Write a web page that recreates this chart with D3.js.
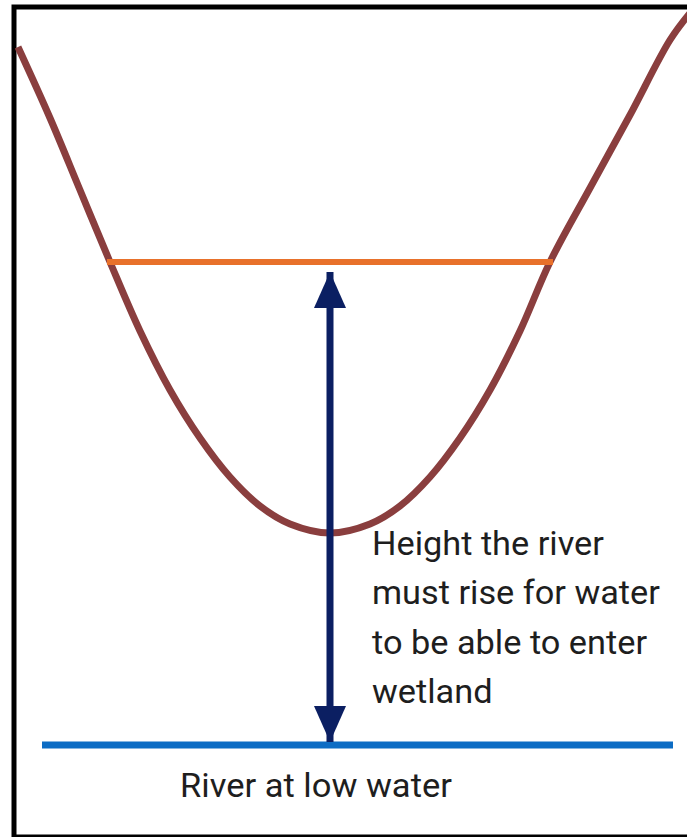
<!DOCTYPE html>
<html>
<head>
<meta charset="utf-8">
<script src="https://cdn.jsdelivr.net/npm/d3@7"></script>
<style>
  html, body { margin: 0; padding: 0; background: #fff; overflow: hidden; }
  svg { display: block; }
</style>
</head>
<body>
<svg id="chart" width="687" height="837"></svg>
<script>
// ---- data (distance along section, elevation above low-water river level) ----
const profileDistance  = [18, 50, 80, 110, 140, 170, 200, 230, 260, 290, 330, 370, 400, 430, 460, 490, 520, 550, 590, 630, 670, 690];
const profileElevation = [698, 627, 555, 483, 414, 355, 307, 268, 239, 221, 212, 221, 239, 268, 307, 355, 414, 483, 557, 630, 705, 732];
const wetlandSill   = { from: 107, to: 553, elevation: 483 };
const riverLow      = { from: 42, to: 673, elevation: 0 };
const arrowDistance = 330;
const noteLines  = ["Height the river", "must rise for water", "to be able to enter", "wetland"];
const riverLabel = "River at low water";

// ---- scales ----
const x = d3.scaleLinear().domain([0, 687]).range([0, 687]);
const y = d3.scaleLinear().domain([0, 745]).range([745, 0]);

const svg = d3.select("#chart");

// frame
svg.append("rect")
  .attr("x", 14).attr("y", 7)
  .attr("width", 690).attr("height", 830)
  .attr("fill", "none").attr("stroke", "#000").attr("stroke-width", 5);

// arrow markers
const defs = svg.append("defs");
function marker(id, orient) {
  defs.append("marker")
    .attr("id", id)
    .attr("viewBox", "0 0 36 32")
    .attr("refX", 36).attr("refY", 16)
    .attr("markerUnits", "userSpaceOnUse")
    .attr("markerWidth", 36).attr("markerHeight", 32)
    .attr("orient", orient)
    .append("path")
    .attr("d", "M0,0 L36,16 L0,32 Z")
    .attr("fill", "#0B1F62");
}
marker("arrowEnd", "auto");
marker("arrowStart", "auto-start-reverse");

// terrain profile
const pts = profileDistance.map((d, i) => [d, profileElevation[i]]);
const line = d3.line().x(d => x(d[0])).y(d => y(d[1])).curve(d3.curveCatmullRom.alpha(0.5));
svg.append("path")
  .datum(pts)
  .attr("d", line)
  .attr("fill", "none")
  .attr("stroke", "#8A3E3E")
  .attr("stroke-width", 7);

// wetland sill level (orange)
svg.append("line")
  .attr("x1", x(wetlandSill.from)).attr("x2", x(wetlandSill.to))
  .attr("y1", y(wetlandSill.elevation)).attr("y2", y(wetlandSill.elevation))
  .attr("stroke", "#E8712B").attr("stroke-width", 6);

// river at low water (blue)
svg.append("line")
  .attr("x1", x(riverLow.from)).attr("x2", x(riverLow.to))
  .attr("y1", y(riverLow.elevation)).attr("y2", y(riverLow.elevation))
  .attr("stroke", "#0C6CC4").attr("stroke-width", 7);

// double arrow
svg.append("line")
  .attr("x1", x(arrowDistance)).attr("x2", x(arrowDistance))
  .attr("y1", y(wetlandSill.elevation) + 10).attr("y2", y(riverLow.elevation) - 3)
  .attr("stroke", "#0B1F62").attr("stroke-width", 7)
  .attr("marker-start", "url(#arrowStart)")
  .attr("marker-end", "url(#arrowEnd)");

// text
const font = "Roboto, 'Liberation Sans', sans-serif";
const note = svg.append("g").attr("class", "note");
note.selectAll("text")
  .data(noteLines)
  .join("text")
  .attr("x", 372)
  .attr("y", (d, i) => 555 + i * 49.5)
  .attr("font-family", font)
  .attr("font-size", 33)
  .attr("fill", "#1e1e1e")
  .text(d => d);
let maxW = 0;
note.selectAll("text").each(function () { maxW = Math.max(maxW, this.getComputedTextLength()); });
const kNote = 288 / maxW;
note.attr("transform", `translate(${372 * (1 - kNote)},0) scale(${kNote},1)`);

const rl = svg.append("text")
  .attr("x", 180).attr("y", 797)
  .attr("font-family", font)
  .attr("font-size", 33)
  .attr("fill", "#1e1e1e")
  .text(riverLabel);
const kRl = 272 / rl.node().getComputedTextLength();
rl.attr("transform", `translate(${180 * (1 - kRl)},0) scale(${kRl},1)`);
</script>
</body>
</html>
